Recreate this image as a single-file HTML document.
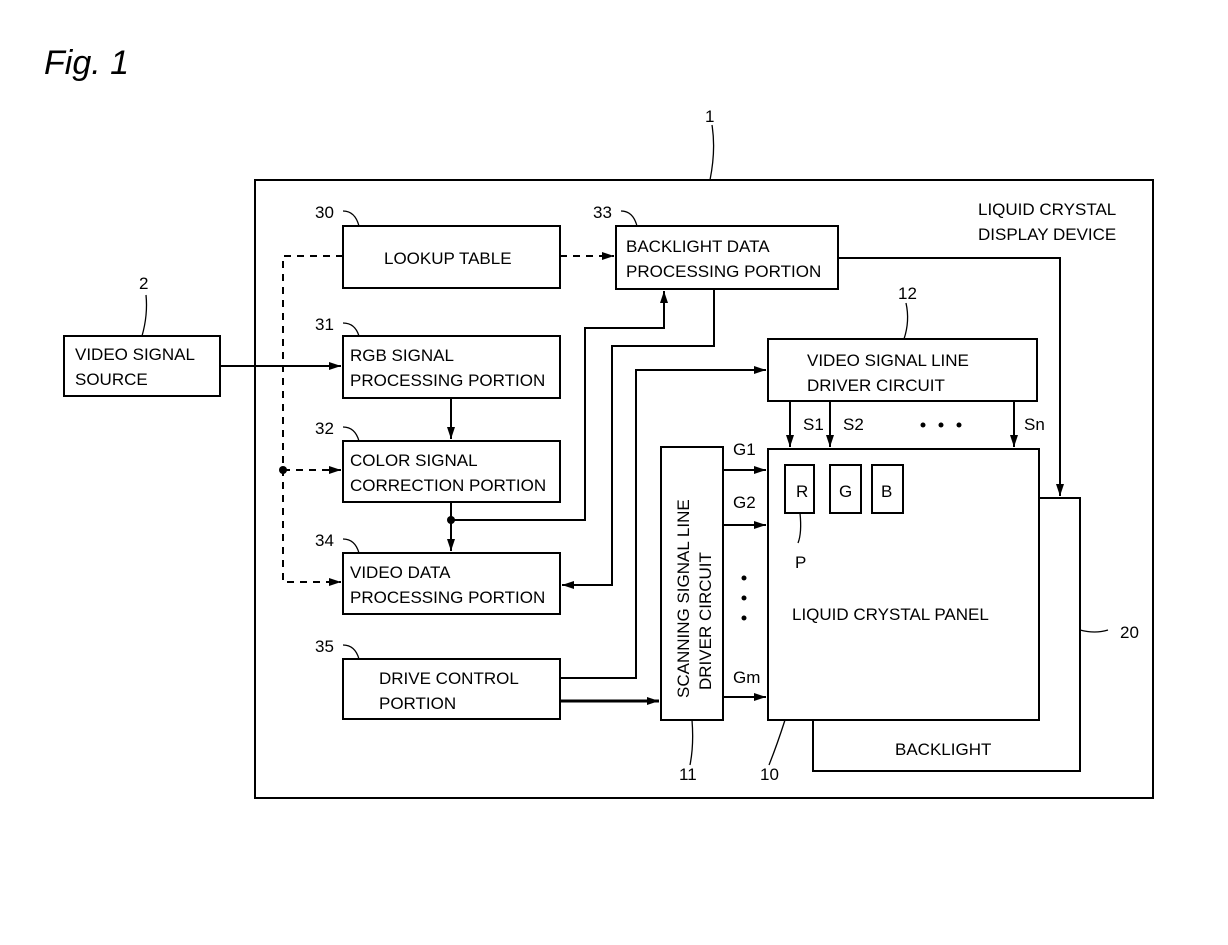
<!DOCTYPE html>
<html><head><style>body{margin:0;background:#fff}svg{display:block}text{font-family:"Liberation Sans",sans-serif;font-size:17px;fill:#000}</style></head><body>
<svg width="1228" height="945" viewBox="0 0 1228 945" xmlns="http://www.w3.org/2000/svg">
<defs><marker id="a" markerWidth="12" markerHeight="8" refX="12" refY="4" orient="auto" markerUnits="userSpaceOnUse"><path d="M0,0L12,4L0,8z"/></marker></defs>
<text x="44" y="74" style="font-size:34px;font-style:italic">Fig. 1</text>
<g fill="none" stroke="#000" stroke-width="2">
<rect x="255" y="180" width="898" height="618"/>
<rect x="64" y="336" width="156" height="60"/>
<rect x="343" y="226" width="217" height="62"/>
<rect x="343" y="336" width="217" height="62"/>
<rect x="343" y="441" width="217" height="61"/>
<rect x="343" y="553" width="217" height="61"/>
<rect x="343" y="659" width="217" height="60"/>
<rect x="616" y="226" width="222" height="63"/>
<rect x="768" y="339" width="269" height="62"/>
<rect x="661" y="447" width="62" height="273"/>
<rect x="768" y="449" width="271" height="271"/>
<rect x="785" y="465" width="29" height="48"/>
<rect x="830" y="465" width="31" height="48"/>
<rect x="872" y="465" width="31" height="48"/>
<path d="M1039,498H1080V771H813V720"/>
<path d="M220,366H341" marker-end="url(#a)"/>
<path d="M451,398V439" marker-end="url(#a)"/>
<path d="M451,502V551" marker-end="url(#a)"/>
<path d="M451,520H585V328H664V291" marker-end="url(#a)"/>
<path d="M714,289V346H612V585H562" marker-end="url(#a)"/>
<path d="M560,678H636V370H766" marker-end="url(#a)"/>
<path d="M560,701H659" marker-end="url(#a)" stroke-width="3"/>
<path d="M838,258H1060V496" marker-end="url(#a)"/>
<path d="M790,401V447" marker-end="url(#a)"/>
<path d="M830,401V447" marker-end="url(#a)"/>
<path d="M1014,401V447" marker-end="url(#a)"/>
<path d="M723,470H766" marker-end="url(#a)"/>
<path d="M723,525H766" marker-end="url(#a)"/>
<path d="M723,697H766" marker-end="url(#a)"/>
<g stroke-dasharray="7,6"><path d="M343,256H283V582H341" marker-end="url(#a)"/><path d="M283,470H341" marker-end="url(#a)"/><path d="M560,256H614" marker-end="url(#a)"/></g>
<g stroke-width="1.3"><path d="M343,211q12,0 16,15"/><path d="M343,323q12,0 16,13"/><path d="M343,427q12,0 16,14"/><path d="M343,539q12,0 16,14"/><path d="M343,645q12,0 16,14"/><path d="M621,211q12,0 16,15"/><path d="M146,295q2,20-4,41"/><path d="M712,125q4,25-2,55"/><path d="M906,303q4,18-2,36"/><path d="M692,720q2,25-2,45"/><path d="M785,720q-8,25-16,45"/><path d="M1080,630q15,4 28,0"/><path d="M800,513q2,20-2,30"/></g>
</g>
<g fill="#000"><circle cx="451" cy="520" r="4"/><circle cx="283" cy="470" r="4"/><circle cx="923" cy="425" r="2.5"/><circle cx="941" cy="425" r="2.5"/><circle cx="959" cy="425" r="2.5"/><circle cx="744" cy="578" r="2.5"/><circle cx="744" cy="598" r="2.5"/><circle cx="744" cy="618" r="2.5"/></g>
<text x="315" y="218">30</text><text x="593" y="218">33</text><text x="315" y="330">31</text><text x="315" y="434">32</text><text x="315" y="546">34</text><text x="315" y="652">35</text>
<text x="139" y="289">2</text><text x="705" y="122">1</text><text x="898" y="299">12</text><text x="679" y="780">11</text><text x="760" y="780">10</text><text x="1120" y="638">20</text><text x="795" y="568">P</text>
<text x="978" y="215">LIQUID CRYSTAL</text><text x="978" y="240">DISPLAY DEVICE</text>
<text x="75" y="360">VIDEO SIGNAL</text><text x="75" y="385">SOURCE</text>
<text x="384" y="264">LOOKUP TABLE</text>
<text x="350" y="361">RGB SIGNAL</text><text x="350" y="386">PROCESSING PORTION</text>
<text x="350" y="466">COLOR SIGNAL</text><text x="350" y="491">CORRECTION PORTION</text>
<text x="350" y="578">VIDEO DATA</text><text x="350" y="603">PROCESSING PORTION</text>
<text x="379" y="684">DRIVE CONTROL</text><text x="379" y="709">PORTION</text>
<text x="626" y="252">BACKLIGHT DATA</text><text x="626" y="277">PROCESSING PORTION</text>
<text x="807" y="366">VIDEO SIGNAL LINE</text><text x="807" y="391">DRIVER CIRCUIT</text>
<text x="803" y="430">S1</text><text x="843" y="430">S2</text><text x="1024" y="430">Sn</text>
<text x="733" y="455">G1</text><text x="733" y="508">G2</text><text x="733" y="683">Gm</text>
<text x="796" y="497">R</text><text x="839" y="497">G</text><text x="881" y="497">B</text>
<text x="792" y="620">LIQUID CRYSTAL PANEL</text>
<text x="895" y="755">BACKLIGHT</text>
<text transform="translate(689,698) rotate(-90)">SCANNING SIGNAL LINE</text>
<text transform="translate(711,690) rotate(-90)">DRIVER CIRCUIT</text>
</svg></body></html>
